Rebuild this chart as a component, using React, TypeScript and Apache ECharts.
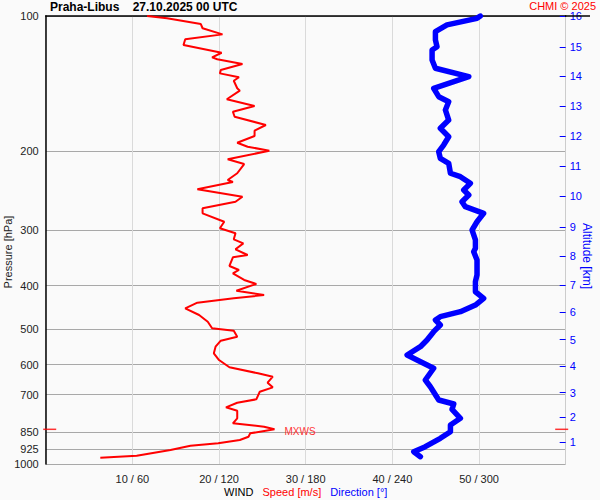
import React, { useEffect, useRef } from "react";
import * as echarts from "echarts";

// Pressure axis ticks (hPa)
const pressureTicks = [100, 200, 300, 400, 500, 600, 700, 850, 925, 1000];
// Altitude axis ticks (km) and the pressure level at which each is drawn (hPa)
const altitudeKm = [1, 2, 3, 4, 5, 6, 7, 8, 9, 10, 11, 12, 13, 14, 15, 16];
const altitudePressure = [894, 785.5, 693, 605, 527.8, 458.5, 399, 343.9, 295.8, 252.6, 216.5, 185.6, 159, 136.4, 117.5, 100];
// Speed axis ticks (m/s); direction = speed * 6
const speedTicks = [10, 20, 30, 40, 50];

// Wind speed profile
const speedPressure = [100, 101.2, 104.2, 106.5, 109.9, 112.7, 116.1, 120.8, 123.7, 124.9, 128.0, 132.0, 134.3, 137.0, 139.5, 145.0, 146.8, 153.4, 158.8, 163.6, 167.8, 175.1, 180.3, 185.3, 191.8, 195.8, 199.8, 208.9, 214.0, 224.4, 232.3, 234.7, 243.7, 253.2, 259.8, 268.7, 275.7, 287.9, 297.8, 305.5, 315.1, 321.7, 331.7, 341.6, 345.7, 361.4, 368.9, 375.2, 388.3, 396.4, 410.4, 419.6, 426.7, 436.5, 449.3, 465.0, 481.3, 497.8, 504.0, 519.8, 530.6, 547.2, 566.1, 586.0, 608.3, 627.4, 638.5, 658.5, 674.3, 689.7, 717.2, 729.9, 747.3, 760.5, 790.8, 811.3, 825.6, 836.7, 854.1, 869.1, 884.0, 899.1, 910.3, 930.6, 958.3, 968.2];
const speedMs = [11.7, 14.0, 17.9, 18.1, 20.4, 16.1, 15.9, 20.3, 19.2, 19.8, 22.7, 20.2, 20.1, 22.3, 21.7, 22.1, 22.4, 20.9, 24.1, 21.6, 21.8, 25.4, 24.1, 24.1, 22.1, 23.3, 25.8, 21.0, 22.9, 22.1, 21.0, 21.6, 17.5, 22.7, 21.9, 18.1, 18.1, 20.6, 20.1, 21.9, 21.7, 22.8, 21.9, 23.3, 21.6, 21.2, 22.3, 21.6, 22.9, 24.3, 22.0, 25.2, 21.7, 17.5, 16.1, 17.7, 18.7, 19.2, 21.7, 22.1, 20.2, 19.6, 19.4, 20.0, 21.2, 24.5, 26.2, 25.6, 26.2, 24.7, 24.3, 22.1, 20.8, 22.1, 22.1, 21.6, 25.2, 26.4, 23.6, 23.4, 22.4, 19.9, 16.7, 14.4, 10.5, 6.3];

// Wind direction profile
const dirPressure = [100, 101.2, 104.7, 108.4, 113.1, 117.1, 119.1, 125.4, 130.8, 136.6, 145.0, 151.4, 155.4, 162.1, 170.7, 178.1, 186.0, 194.1, 200.9, 207.8, 213.2, 224.4, 228.4, 236.3, 244.6, 251.0, 259.8, 266.5, 275.7, 287.9, 300.4, 316.2, 330.0, 335.8, 350.5, 378.5, 391.8, 412.6, 426.7, 441.7, 457.1, 469.0, 477.0, 489.4, 506.6, 528.7, 547.2, 571.2, 586.0, 611.4, 649.4, 672.3, 719.8, 734.7, 755.0, 790.8, 818.4, 847.1, 876.3, 914.9, 938.8, 963.2];
const dirDeg = [300.9, 298.6, 277.8, 269.8, 269.8, 270.9, 267.5, 267.5, 269.8, 292.9, 268.6, 272.1, 279.0, 276.7, 279.0, 273.2, 279.0, 275.5, 272.1, 273.2, 279.0, 280.2, 287.1, 294.0, 289.4, 292.9, 288.2, 290.5, 303.2, 298.6, 295.2, 297.5, 297.5, 296.3, 298.6, 298.6, 297.5, 297.5, 303.2, 297.5, 287.1, 273.2, 269.8, 273.2, 268.6, 264.0, 259.4, 250.2, 257.1, 268.6, 262.8, 266.3, 272.1, 282.5, 281.3, 287.1, 280.2, 280.2, 273.2, 262.8, 254.8, 259.4];

const FONT = "Liberation Sans, Arial, sans-serif";
const lg = (p: number) => Math.log10(p);

export default function App() {
  const ref = useRef<HTMLDivElement>(null);
  useEffect(() => {
    if (!ref.current) return;
    const chart = echarts.init(ref.current, null, { renderer: "svg" });

    const speedData = speedPressure.map((p, i) => [speedMs[i], lg(p)]);
    const dirData = dirPressure.map((p, i) => [dirDeg[i], lg(p)]);
    let maxI = 0;
    speedMs.forEach((v, i) => { if (v > speedMs[maxI]) maxI = i; });
    const maxY = lg(speedPressure[maxI]);
    const altVals = altitudePressure.map(lg);

    chart.setOption({
      animation: false,
      backgroundColor: "#fafafa",
      textStyle: { fontFamily: FONT },
      title: {
        text: "Praha-Libus    27.10.2025 00 UTC",
        left: 50, top: 1, padding: 0,
        textStyle: { fontSize: 12, fontWeight: "bold", color: "#000", fontFamily: FONT },
      },
      graphic: [
        { type: "text", right: 4, top: 0, style: { text: "CHMI © 2025", fill: "#ff0000", font: `11px ${FONT}` } },
        { type: "line", shape: { x1: 565, y1: 16, x2: 590, y2: 16 }, style: { stroke: "#000", lineWidth: 1.5 }, z: 10 },
      ],
      grid: { left: 45.7, right: 34.3, top: 16, bottom: 36, containLabel: false, outerBoundsMode: "none" },
      xAxis: [
        {
          type: "value", min: 0, max: 60, interval: 10, position: "bottom",
          axisLine: { show: false }, axisTick: { show: false },
          splitLine: { show: true, lineStyle: { color: "#dadada", width: 1 } },
          axisLabel: {
            showMinLabel: false, showMaxLabel: false, margin: 9, fontSize: 11, color: "#222", fontFamily: FONT,
            formatter: (v: number) => (speedTicks.includes(v) ? `${v} / ${v * 6}` : ""),
          },
          name: "{a|WIND}   {b|Speed [m/s]}   {c|Direction [°]}",
          nameLocation: "middle", nameGap: 22, nameMoveOverlap: false,
          nameTextStyle: {
            fontSize: 11, fontFamily: FONT,
            rich: {
              a: { color: "#000", fontSize: 11, fontFamily: FONT },
              b: { color: "#ff0000", fontSize: 11, fontFamily: FONT },
              c: { color: "#0000ff", fontSize: 11, fontFamily: FONT },
            },
          },
        },
        {
          type: "value", min: 0, max: 360, position: "top",
          axisLine: { show: true, lineStyle: { color: "#000", width: 1.5 } },
          axisTick: { show: false }, axisLabel: { show: false }, splitLine: { show: false },
        },
      ],
      yAxis: [
        {
          type: "value", min: 2, max: 3, inverse: true, position: "left",
          axisLine: { show: true, onZero: false, lineStyle: { color: "#000", width: 1.5 } },
          axisTick: { show: false, customValues: pressureTicks.map(lg) },
          axisLabel: {
            customValues: pressureTicks.map(lg), margin: 7, fontSize: 11, color: "#222", fontFamily: FONT,
            formatter: (v: number) => String(Math.round(Math.pow(10, v))),
          },
          splitLine: { show: true, lineStyle: { color: "#a8a8a8", width: 1 } },
          name: "Pressure [hPa]", nameLocation: "middle", nameGap: 32, nameRotate: 90, nameMoveOverlap: false,
          nameTextStyle: { fontSize: 11, color: "#222", fontFamily: FONT, padding: [0, 24, 0, 0] },
        },
        {
          type: "value", min: 2, max: 3, inverse: true, position: "right",
          axisLine: { show: true, onZero: false, lineStyle: { color: "#cccccc", width: 1 } },
          axisTick: { show: true, inside: true, length: 6, customValues: altVals, lineStyle: { color: "#0000ff", width: 1 } },
          axisLabel: {
            customValues: altVals, margin: 4, fontSize: 11, color: "#0000ff", fontFamily: FONT,
            formatter: (v: number) => {
              let best = 0;
              altVals.forEach((a, i) => { if (Math.abs(a - v) < Math.abs(altVals[best] - v)) best = i; });
              return String(altitudeKm[best]);
            },
          },
          splitLine: { show: false },
          name: "Altitude [km]", nameLocation: "middle", nameGap: 15, nameRotate: -90, nameMoveOverlap: false,
          nameTextStyle: { fontSize: 12, color: "#0000ff", fontFamily: FONT, padding: [0, 0, 0, 32] },
        },
      ],
      series: [
        {
          type: "line", xAxisIndex: 1, yAxisIndex: 0, data: dirData, showSymbol: false,
          lineStyle: { color: "#0000ff", width: 5.5, cap: "round", join: "round" },
          silent: true, z: 3,
        },
        {
          type: "line", xAxisIndex: 0, yAxisIndex: 0, data: speedData, showSymbol: false,
          lineStyle: { color: "#ff0000", width: 2 },
          silent: true, z: 4,
          markPoint: {
            symbol: "circle", symbolSize: 0, silent: true,
            label: { show: true, position: "right", distance: 10, offset: [0, 2], formatter: "MXWS", color: "#ff3333", fontSize: 10, fontFamily: FONT },
            data: [{ coord: [speedMs[maxI], maxY] }],
          },
        },
        {
          type: "scatter", xAxisIndex: 0, yAxisIndex: 0, symbol: "rect", symbolSize: [13, 1.5], clip: false, silent: true,
          itemStyle: { color: "#ff0000" }, z: 5,
          data: [
            { value: [0, maxY], symbolOffset: [4, 0] },
            { value: [60, maxY], symbolOffset: [-4, 0] },
          ],
        },
      ],
    });
    return () => chart.dispose();
  }, []);
  return <div ref={ref} style={{ position: "fixed", left: 0, top: 0, width: 600, height: 500 }} />;
}
